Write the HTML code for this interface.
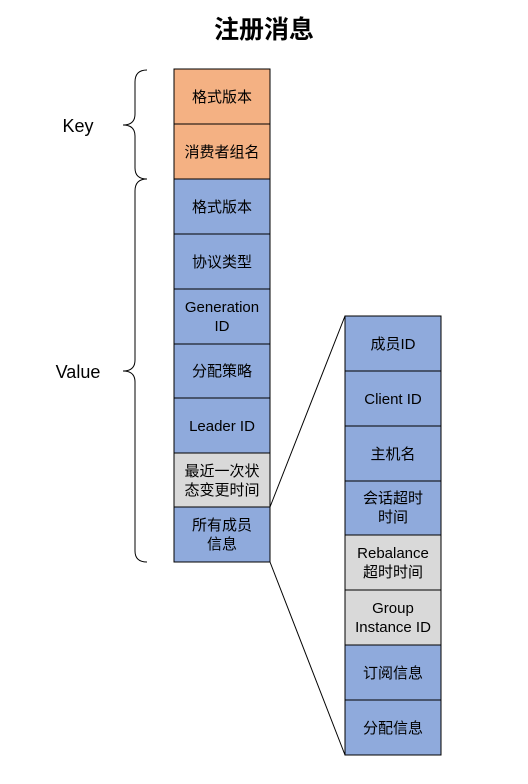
<!DOCTYPE html><html><head><meta charset="utf-8"><style>body{margin:0;background:#fff}</style></head><body>
<svg width="528" height="779" xmlns="http://www.w3.org/2000/svg" font-family="Liberation Sans, Noto Sans CJK SC, sans-serif">
<rect width="528" height="779" fill="#fff"/>
<text x="264" y="38" font-size="25" font-weight="bold" text-anchor="middle">注册消息</text>
<g stroke="#000" stroke-width="1">
<rect x="174" y="69" width="96" height="55" fill="#f4b183"/>
<rect x="174" y="124" width="96" height="55" fill="#f4b183"/>
<rect x="174" y="179" width="96" height="55" fill="#8faadc"/>
<rect x="174" y="234" width="96" height="55" fill="#8faadc"/>
<rect x="174" y="289" width="96" height="55" fill="#8faadc"/>
<rect x="174" y="344" width="96" height="54" fill="#8faadc"/>
<rect x="174" y="398" width="96" height="55" fill="#8faadc"/>
<rect x="174" y="453" width="96" height="54" fill="#d9d9d9"/>
<rect x="174" y="507" width="96" height="55" fill="#8faadc"/>
<rect x="345" y="316" width="96" height="55" fill="#8faadc"/>
<rect x="345" y="371" width="96" height="55" fill="#8faadc"/>
<rect x="345" y="426" width="96" height="55" fill="#8faadc"/>
<rect x="345" y="481" width="96" height="54" fill="#8faadc"/>
<rect x="345" y="535" width="96" height="55" fill="#d9d9d9"/>
<rect x="345" y="590" width="96" height="55" fill="#d9d9d9"/>
<rect x="345" y="645" width="96" height="55" fill="#8faadc"/>
<rect x="345" y="700" width="96" height="55" fill="#8faadc"/>
<line x1="270" y1="507" x2="345" y2="316"/>
<line x1="270" y1="562" x2="345" y2="755"/>
<path d="M147 70 Q135 70 135 82 L135 114 Q135 125 123 125 Q135 125 135 136 L135 168 Q135 179 147 179" fill="none"/>
<path d="M147 179 Q135 179 135 191 L135 360 Q135 371 123 371 Q135 371 135 382 L135 551 Q135 562 147 562" fill="none"/>
</g>
<g font-size="15" text-anchor="middle" fill="#000">
<text x="222" y="102">格式版本</text>
<text x="222" y="157">消费者组名</text>
<text x="222" y="212">格式版本</text>
<text x="222" y="267">协议类型</text>
<text x="222" y="312">Generation</text><text x="222" y="331">ID</text>
<text x="222" y="376">分配策略</text>
<text x="222" y="431">Leader ID</text>
<text x="222" y="476">最近一次状</text><text x="222" y="495">态变更时间</text>
<text x="222" y="530">所有成员</text><text x="222" y="549">信息</text>
<text x="393" y="349">成员ID</text>
<text x="393" y="404">Client ID</text>
<text x="393" y="459">主机名</text>
<text x="393" y="503">会话超时</text><text x="393" y="522">时间</text>
<text x="393" y="558">Rebalance</text><text x="393" y="577">超时时间</text>
<text x="393" y="613">Group</text><text x="393" y="632">Instance ID</text>
<text x="393" y="678">订阅信息</text>
<text x="393" y="733">分配信息</text>
<text x="78" y="132" font-size="18">Key</text>
<text x="78" y="378" font-size="18">Value</text>
</g>
</svg>
</body></html>
